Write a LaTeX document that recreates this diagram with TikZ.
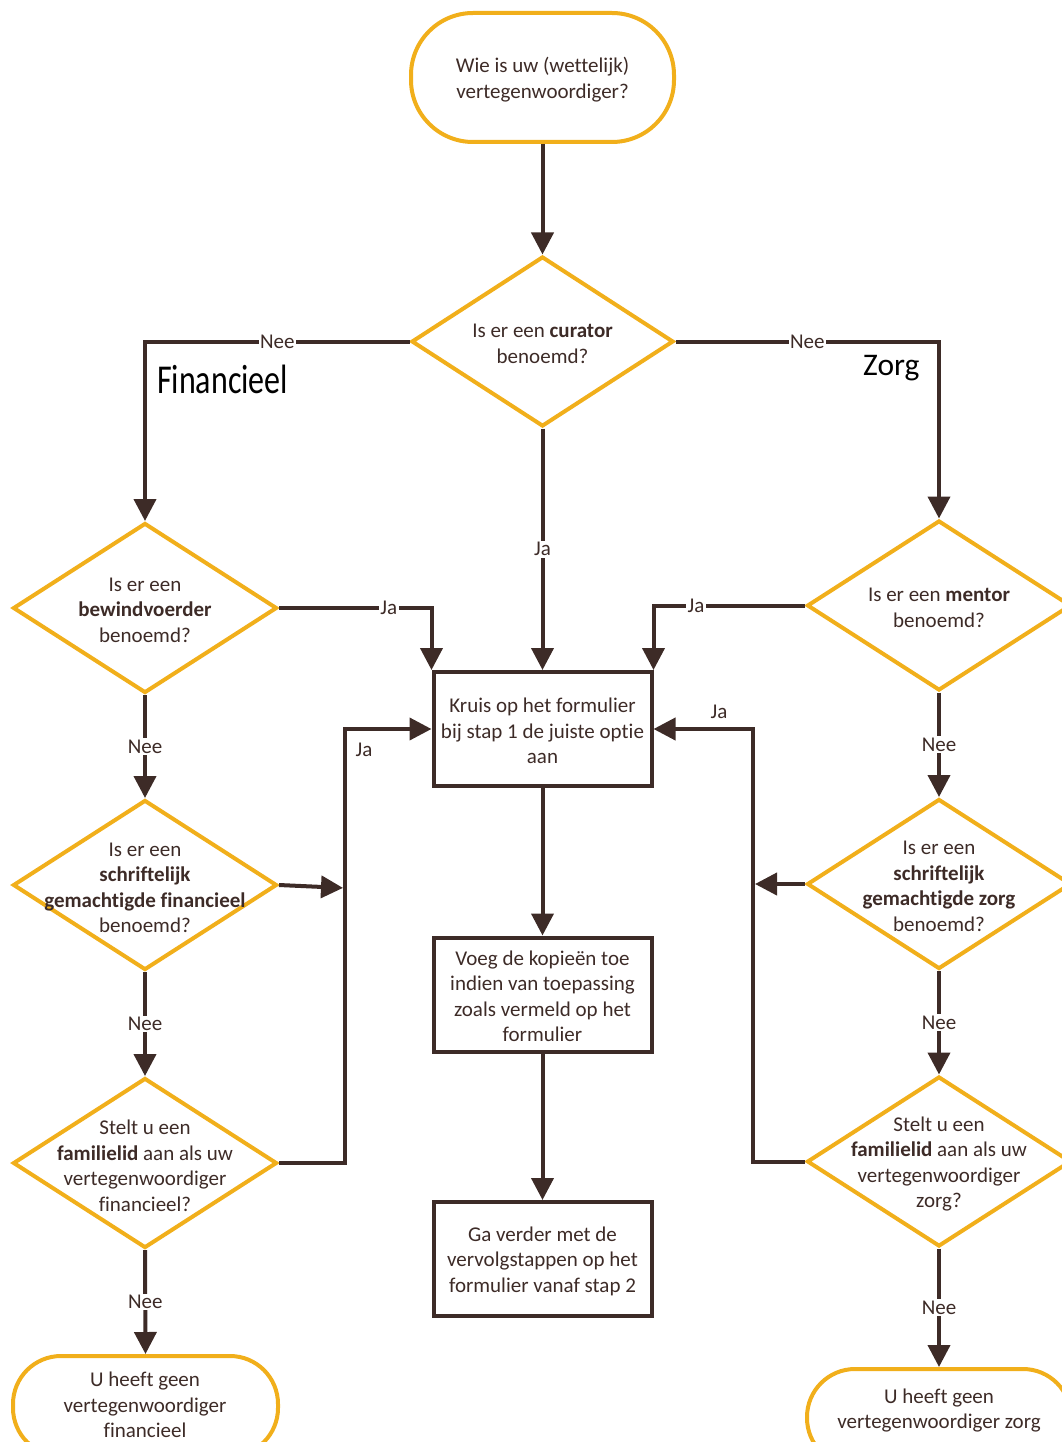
\documentclass[tikz,border=0pt]{standalone}
\usepackage{graphicx}
\usepackage{fontspec}
\setmainfont{Carlito}[Ligatures={NoCommon}]
\usetikzlibrary{shapes.geometric,arrows.meta}
\definecolor{orng}{HTML}{F1AF1B}
\definecolor{brn}{HTML}{3D2B27}
\newcommand\fs{\fontsize{21}{25.5}\selectfont}
\begin{document}
\begin{tikzpicture}[x=1pt,y=-1pt,
  dia/.style={diamond, draw=orng, line width=4pt, minimum width=264pt, minimum height=170pt, inner sep=0pt},
  term/.style={rectangle, rounded corners=48pt, draw=orng, line width=4pt},
  stepbox/.style={rectangle, draw=brn, line width=4pt, minimum width=218pt, minimum height=114pt},
  txt/.style={align=center, font=\fs, text=brn, inner sep=0pt, yshift=-2pt},
  conn/.style={draw=brn, line width=4pt, -{Triangle[length=22pt,width=22pt]}},
  lab/.style={fill=white, font=\fs, text=brn, inner sep=1.5pt},
  side/.style={font=\fs, text=brn, inner sep=0pt}
]
\useasboundingbox (0,0) rectangle (1062,1442);
\clip (0,0) rectangle (1062,1442);

% terminals
\node[term, rounded corners=62pt, minimum width=263pt, minimum height=129pt] (start) at (542.5,77.5) {};
\node[txt] (startT) at (542.5,77.5) {Wie is uw (wettelijk)\\vertegenwoordiger?};
\node[term, minimum width=265pt, minimum height=100pt] (endF) at (145.5,1406) {};
\node[txt] (endFt) at (145,1403) {U heeft geen\\vertegenwoordiger\\financieel};
\node[term, minimum width=264pt, minimum height=97pt] (endZ) at (939,1417.5) {};
\node[txt] (endZt) at (939,1408.5) {U heeft geen\\vertegenwoordiger zorg};

% diamonds
\node[dia, minimum width=262pt, minimum height=170pt] (cur) at (542.5,341.5) {};
\node[txt] (curT) at (542.5,342) {Is er een \textbf{curator}\\benoemd?};

\node[dia] (bw) at (145,608) {};
\node[txt] (bwT) at (145,608) {Is er een\\\textbf{bewindvoerder}\\benoemd?};
\node[dia] (sf) at (145,885) {};
\node[txt] (sfT) at (145,886) {Is er een\\\textbf{schriftelijk}\\\textbf{gemachtigde financieel}\\benoemd?};
\node[dia] (ff) at (145,1163) {};
\node[txt] (ffT) at (145,1164) {Stelt u een\\\textbf{familielid} aan als uw\\vertegenwoordiger\\financieel?};

\node[dia] (mt) at (939,605.5) {};
\node[txt] (mtT) at (939,606) {Is er een \textbf{mentor}\\benoemd?};
\node[dia] (sz) at (939,884) {};
\node[txt] (szT) at (939,884.5) {Is er een\\\textbf{schriftelijk}\\\textbf{gemachtigde zorg}\\benoemd?};
\node[dia] (fz) at (939,1161.5) {};
\node[txt] (fzT) at (939,1162) {Stelt u een\\\textbf{familielid} aan als uw\\vertegenwoordiger\\zorg?};

% boxes
\node[stepbox] (kr) at (542.5,729) {};
\node[txt] (krT) at (542.5,729) {Kruis op het formulier\\bij stap 1 de juiste optie\\aan};
\node[stepbox] (vg) at (542.5,994.5) {};
\node[txt] (vgT) at (542.5,994.5) {Voeg de kopie\"en toe\\indien van toepassing\\zoals vermeld op het\\formulier};
\node[stepbox] (ga) at (542.5,1259) {};
\node[txt] (gaT) at (542.5,1259) {Ga verder met de\\vervolgstappen op het\\formulier vanaf stap 2};

% side titles
\node[anchor=base west, inner sep=0pt, text=black, font=\fontsize{41}{41}\selectfont] (finL) at (157,393) {\scalebox{0.78}[1]{Financieel}};
\node[anchor=base west, inner sep=0pt, text=black, font=\fontsize{31.5}{31.5}\selectfont] (zorgL) at (863,375) {Zorg};

% bus coordinates
\coordinate (busL) at (345,888);
\coordinate (busR) at (753,884);

% connectors
\draw[conn] (start) -- (cur);
\draw[conn] (cur.west) -| node[lab, pos=0.25] {Nee} (bw.north);
\draw[conn] (cur.east) -| node[lab, pos=0.25] {Nee} (mt.north);
\draw[conn] (cur.south) -- node[lab] {Ja} (kr.north);

\draw[conn] (bw.east) -| node[lab, pos=0.36] {Ja} (kr.north west);
\draw[conn] (mt.west) -| node[lab, pos=0.36] {Ja} (kr.north east);

\draw[conn] (bw.south) -- node[lab] {Nee} (sf.north);
\draw[conn] (sf.south) -- node[lab] {Nee} (ff.north);
\draw[conn] (ff.south) -- node[lab] {Nee} (endF.north);

\draw[conn] (mt.south) -- node[lab] {Nee} (sz.north);
\draw[conn] (sz.south) -- node[lab] {Nee} (fz.north);
\draw[conn] (fz.south) -- node[lab] {Nee} (endZ.north);

\draw[conn, shorten >=2pt] (sf.east) -- (busL);
\draw[conn] (ff.east) -| (busL) |- (kr.west);
\node[side] (jaL) at (364,750) {Ja};

\draw[conn, shorten >=2pt] (sz.west) -- (busR);
\draw[conn] (fz.west) -| (busR) |- (kr.east);
\node[side] (jaR) at (719,712) {Ja};

\draw[conn] (kr) -- (vg);
\draw[conn] (vg) -- (ga);
\end{tikzpicture}
\end{document}
